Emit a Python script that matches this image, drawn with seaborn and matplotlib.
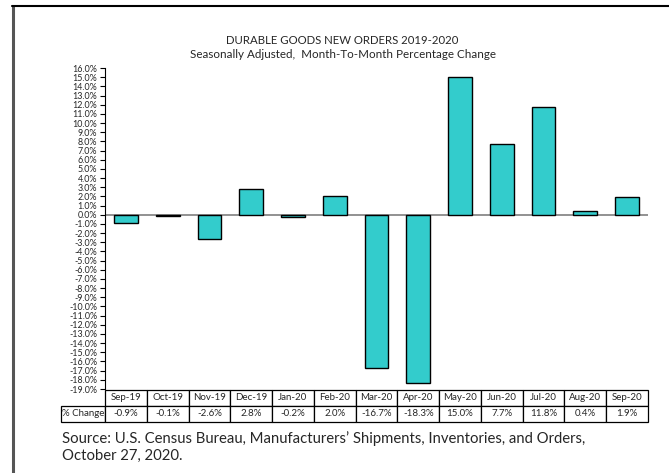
import matplotlib
matplotlib.use('Agg')
from matplotlib import pyplot as plt
from matplotlib.lines import Line2D
import numpy as np
import pandas as pd
import seaborn as sn

# ----- datos -----
months = ['Sep-19', 'Oct-19', 'Nov-19', 'Dec-19', 'Jan-20', 'Feb-20', 'Mar-20',
          'Apr-20', 'May-20', 'Jun-20', 'Jul-20', 'Aug-20', 'Sep-20']
pct_change = [-0.9, -0.1, -2.6, 2.8, -0.2, 2.0, -16.7, -18.3, 15.0, 7.7, 11.8, 0.4, 1.9]
y_ticks = list(range(-19, 17))
row_label = '% Change'
title1 = 'DURABLE GOODS NEW ORDERS 2019-2020'
title2 = 'Seasonally Adjusted,  Month-To-Month Percentage Change'
source = ('Source: U.S. Census Bureau, Manufacturers\u2019 Shipments, Inventories, and Orders,\n'
          'October 27, 2020.')

df = pd.DataFrame({'month': months, 'pct': pct_change})

sn.set_style('white')
plt.rcParams['font.family'] = ['Lato', 'DejaVu Sans']

W, H = 669, 473
fig = plt.figure(figsize=(W / 100, H / 100), dpi=100)
ax = fig.add_axes([105 / W, 1 - 389 / H, (648 - 105) / W, (389 - 68) / H])

sn.barplot(data=df, x='month', y='pct', color='#33CCCC', edgecolor='black',
           linewidth=1, width=0.57, saturation=1, ax=ax)
ax.axhline(0, color='#7f7f7f', lw=1.2, zorder=0)

ax.set_ylim(-19, 16)
ax.set_xlim(-0.5, len(months) - 0.5)
ax.set_yticks(y_ticks)
ax.set_yticklabels([f'{v:.1f}%' for v in y_ticks], fontsize=6.4)
ax.tick_params(axis='y', length=3.5, width=0.8, pad=2, left=True, color='black')
ax.set_xticks([])
ax.set_xlabel('')
ax.set_ylabel('')
for s in ['top', 'right', 'bottom']:
    ax.spines[s].set_visible(False)
ax.spines['left'].set_color('black')
ax.spines['left'].set_linewidth(0.8)

# ----- tabla de datos -----
lab_w = 47 / 543
tab_h = 32 / 321
tbl = ax.table(cellText=[[f'{v:.1f}%' for v in pct_change]], rowLabels=[row_label],
               colLabels=months, cellLoc='center', rowLoc='left',
               bbox=[0, -tab_h - 0.003, 1, tab_h])
tbl.auto_set_font_size(False)
for (r, c), cell in tbl.get_celld().items():
    cell.set_fontsize(7)
    cell.set_linewidth(0.9)
    cell.set_edgecolor('black')
    cell.set_width(lab_w if c == -1 else 1 / len(months))
    cell.PAD = 0.02

# ----- titulos y fuente -----
fig.text(342 / W, 1 - 40 / H, title1, ha='center', va='center', fontsize=8.2)
fig.text(343 / W, 1 - 55 / H, title2, ha='center', va='center', fontsize=8.4)
fig.text(62 / W, 1 - 447 / H, source, ha='left', va='center', fontsize=10.7,
         linespacing=1.3)

# ----- borde -----
fig.add_artist(Line2D([12.5 / W, 12.5 / W], [0, 1 - 6 / H], color='#555555', lw=2.2))
fig.add_artist(Line2D([12 / W, 1], [1 - 6 / H, 1 - 6 / H], color='black', lw=1.5))

fig.savefig('out.png', dpi=100)
